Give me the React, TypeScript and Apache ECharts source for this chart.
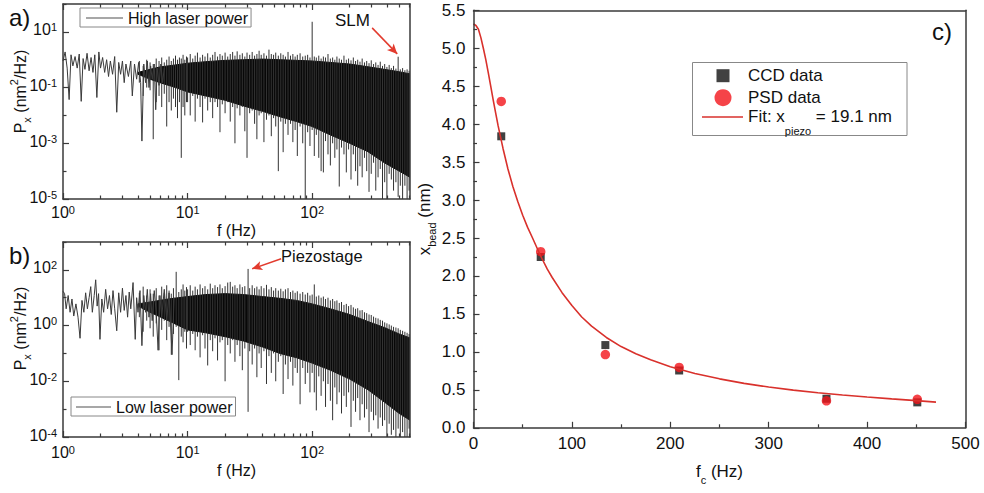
import React, { useEffect, useRef } from 'react';
import * as echarts from 'echarts';

const FONT = "'Liberation Sans', Arial, Helvetica, sans-serif";
const AX = '#3a3a3a';
const TXT = '#111';

// ---------- Panel a : high laser power spectrum ----------
const traceAFreq = [1.0, 1.04, 1.08, 1.12, 1.16, 1.2, 1.25, 1.3, 1.35, 1.4, 1.45, 1.5, 1.56, 1.62, 1.68, 1.74, 1.8, 1.87, 1.94, 2.0, 2.08, 2.16, 2.24, 2.32, 2.4, 2.5, 2.6, 2.7, 2.8, 2.9, 3.0, 3.1, 3.2, 3.35, 3.5, 3.6, 3.75, 3.9, 4.05, 4.2, 4.3, 4.45, 4.6, 4.75, 4.9, 5.05, 5.2, 5.4, 5.55, 5.7, 5.9, 6.1, 6.3, 6.5];
const traceAPower = [0.9, 1.9, 0.5, 0.037, 1.5, 0.6, 1.3, 0.5, 1.6, 0.032, 1.1, 0.45, 1.7, 0.4, 1.2, 0.35, 1.5, 0.044, 1.9, 0.5, 1.2, 0.35, 1.0, 0.25, 0.9, 0.3, 1.3, 0.013, 0.8, 0.3, 0.9, 0.15, 0.7, 0.25, 0.9, 0.05, 0.7, 0.2, 0.8, 0.15, 0.0012, 0.7, 0.15, 0.9, 0.1, 0.6, 0.2, 0.7, 0.016, 0.5, 0.12, 0.7, 0.15, 0.5];
const bandAFreq = [4, 5, 6, 8, 10, 14, 20, 28, 40, 55, 75, 100, 140, 200, 280, 380, 500, 610];
const bandAUpper = [0.35, 0.45, 0.55, 0.65, 0.75, 0.85, 0.95, 1.0, 1.05, 1.0, 0.95, 0.9, 0.8, 0.7, 0.56, 0.45, 0.37, 0.31];
const bandALower = [0.3, 0.2, 0.15, 0.1, 0.07, 0.05, 0.035, 0.022, 0.014, 0.009, 0.006, 0.004, 0.002, 0.001, 0.0005, 0.0002, 0.0001, 0.00006];
const spikesAFreq = [4.1, 4.4, 4.7, 5.0, 5.3, 5.6, 5.9, 6.2, 6.5, 6.8, 7.1, 7.4, 7.7, 8.0, 8.3, 8.6, 8.9, 9.2, 9.5, 9.8,
  10, 10.5, 11, 11.5, 12, 12.6, 13.2, 13.8, 14.5, 15.2, 15.9, 16.6, 17.4, 18.2, 19, 20, 21, 22, 23, 24, 25, 26.3, 27.5, 28.8, 30, 31.5, 33, 34.5, 36, 37.5, 39, 41, 43, 45, 47, 49, 51, 53.5, 56, 58.5, 61, 64, 67, 70, 73, 76, 80, 84, 88, 92, 96,
  100, 104, 108, 113, 118, 123, 128, 134, 140, 146, 152, 158, 165, 172, 180, 188, 196, 205, 214, 223, 232, 242, 252, 263, 274, 286, 298, 311, 324, 338, 352, 367, 382, 398, 415, 432, 450, 470, 490, 510, 532, 555, 578, 600];
const spikesAHigh = [0.9, 0.6, 1.0, 0.8, 0.7, 1.1, 0.9, 1.2, 0.8, 1.0, 1.3, 0.9, 1.1, 1.4, 1.0, 1.2, 1.1, 1.5, 1.0, 1.3,
  1.2, 1.6, 1.1, 1.4, 1.8, 1.2, 1.5, 1.3, 1.7, 1.2, 1.5, 1.9, 1.3, 1.6, 1.4, 1.8, 1.3, 1.6, 1.9, 1.4, 2.0, 1.5, 1.7, 1.3, 1.8, 1.5, 1.9, 1.4, 1.6, 2.1, 1.5, 1.7, 1.4, 2.3, 1.6, 1.5, 1.8, 1.4, 1.7, 1.5, 1.3, 1.9, 1.4, 1.6, 1.3, 1.5, 1.7, 1.3, 1.4, 1.5, 1.2,
  23, 1.3, 1.2, 1.4, 1.1, 1.3, 1.2, 1.6, 1.1, 1.2, 1.0, 1.3, 1.1, 1.0, 1.4, 1.0, 1.1, 0.95, 1.2, 0.9, 1.0, 0.85, 1.1, 0.8, 0.9, 0.75, 0.95, 0.7, 0.8, 0.65, 0.85, 0.6, 0.7, 0.55, 0.65, 0.5, 0.6, 0.48, 1.28, 0.45, 0.5, 0.42, 0.45, 0.4];
const spikesALow = [0.15, 0.05, 0.1, 0.08, 0.0014, 0.03, 0.05, 0.02, 0.06, 0.004, 0.03, 0.015, 0.04, 0.02, 0.008, 0.03, 0.0003, 0.02, 0.01, 0.03,
  0.03, 0.01, 0.05, 0.006, 0.04, 0.02, 0.0056, 0.04, 0.015, 0.03, 0.008, 0.03, 0.02, 0.0025, 0.025, 0.012, 0.03, 0.006, 0.02, 0.001, 0.018, 0.01, 0.02, 0.0027, 0.0003, 0.012, 0.015, 0.005, 0.0014, 0.01, 0.012, 0.0011, 0.007, 0.01, 0.0018, 0.008, 0.004, 0.0001, 0.006, 0.00048, 0.005, 0.002, 0.005, 0.0011, 0.003, 0.00035, 0.004, 0.001, 0.00001, 0.0025, 0.0008,
  0.003, 0.00035, 0.002, 0.0003, 0.0001, 0.00009, 0.0012, 0.0004, 0.00016, 0.001, 0.0003, 0.0006, 0.000028, 0.0007, 0.0004, 0.00009, 0.0006, 0.00005, 0.0004, 0.0001, 0.00003, 0.00015, 0.00006, 0.0003, 0.0001, 0.000018, 0.00008, 0.0002, 0.00002, 0.00006, 0.00012, 0.00001, 0.00004, 0.00001, 0.00008, 0.00005, 0.00002, 0.00004, 0.000012, 0.00003, 0.00001, 0.00003, 0.00001, 0.00002];

// ---------- Panel b : low laser power spectrum ----------
const traceBFreq = [1.0, 1.03, 1.06, 1.1, 1.14, 1.18, 1.22, 1.27, 1.32, 1.37, 1.42, 1.47, 1.52, 1.57, 1.62, 1.67, 1.72, 1.78, 1.83, 1.88, 1.93, 1.98, 2.05, 2.12, 2.2, 2.28, 2.36, 2.44, 2.52, 2.6, 2.7, 2.8, 2.9, 3.0, 3.1, 3.2, 3.3, 3.4, 3.5, 3.65, 3.8, 3.9, 4.0, 4.15, 4.3, 4.45, 4.6, 4.75, 4.9, 5.05, 5.2, 5.4, 5.6, 5.8, 6.0, 6.2, 6.5, 6.8, 7.1, 7.5, 7.8];
const traceBPower = [17, 14, 4, 12, 3, 9, 2.2, 6, 2, 0.35, 8, 3, 15, 4, 10, 25, 3, 12, 44, 5, 14, 0.32, 9, 3, 20, 4, 12, 2.5, 18, 4, 0.65, 15, 3, 22, 3.5, 12, 2, 16, 4, 35, 0.32, 10, 3, 18, 0.19, 12, 3, 20, 2, 14, 1.5, 18, 3, 0.13, 12, 2, 20, 1.5, 15, 0.09, 10];
const bandBFreq = [4, 5, 7, 10, 14, 20, 28, 40, 55, 75, 100, 140, 200, 280, 380, 500, 610];
const bandBUpper = [6, 7, 9, 11, 13, 14, 13, 11, 9.5, 8, 6, 4, 2.5, 1.4, 0.85, 0.5, 0.36];
const bandBLower = [5, 3, 1.5, 0.7, 0.55, 0.4, 0.28, 0.17, 0.1, 0.07, 0.045, 0.025, 0.012, 0.005, 0.0018, 0.0007, 0.0004];
const spikesBFreq = [4.1, 4.4, 4.7, 5.0, 5.3, 5.6, 5.9, 6.2, 6.5, 6.8, 7.1, 7.4, 7.7, 8.1, 8.5, 8.9, 9.2, 9.5, 9.8,
  10, 10.5, 11, 11.5, 12, 12.6, 13.2, 13.8, 14.5, 15.2, 15.9, 16.6, 17.4, 18.2, 19, 20, 21, 22, 23, 24, 25, 26.3, 27.5, 28.8, 30.6, 31.5, 33, 34.5, 36, 37.5, 39, 41, 43, 45, 47, 49, 51, 53.5, 56, 58.5, 61, 64, 67, 70, 73, 76, 80, 84, 88, 92, 96,
  100, 104, 108, 113, 118, 123, 128, 134, 140, 146, 152, 158, 165, 172, 180, 188, 196, 205, 214, 223, 232, 242, 252, 263, 274, 286, 298, 311, 324, 338, 352, 367, 382, 398, 415, 432, 450, 470, 490, 510, 532, 555, 578, 600];
const spikesBHigh = [15, 25, 12, 20, 14, 22, 12, 25, 15, 28, 18, 14, 22, 85, 16, 20, 30, 18, 24,
  20, 28, 18, 25, 20, 30, 22, 26, 20, 32, 22, 28, 24, 30, 22, 26, 35, 37, 25, 28, 22, 30, 24, 26, 108, 22, 28, 22, 25, 20, 26, 22, 29, 20, 24, 18, 22, 18, 21, 17, 20, 22, 16, 18, 15, 17, 14, 16, 13, 15, 12,
  13, 30, 11, 12, 10, 11, 9, 10, 8, 9, 7.5, 8, 6.5, 7, 5.5, 6, 5, 5.5, 4.5, 4, 4.2, 3.5, 3.6, 3, 2.8, 2.5, 2.4, 2.1, 1.9, 1.8, 1.6, 1.5, 1.3, 1.2, 1.1, 1.0, 0.9, 0.85, 0.8, 0.7, 0.65, 0.6, 0.55, 0.5];
const spikesBLow = [2, 0.6, 1.5, 0.8, 0.4, 1.2, 0.13, 0.7, 1.5, 0.3, 0.9, 0.09, 0.5, 0.9, 0.011, 0.4, 0.25, 0.6, 0.15,
  0.6, 0.2, 0.5, 0.13, 0.4, 0.072, 0.45, 0.15, 0.037, 0.3, 0.12, 0.35, 0.056, 0.25, 0.3, 0.01, 0.2, 0.1, 0.3, 0.05, 0.2, 0.08, 0.025, 0.15, 0.0008, 0.12, 0.04, 0.15, 0.014, 0.1, 0.03, 0.12, 0.008, 0.08, 0.02, 0.1, 0.01, 0.05, 0.08, 0.0035, 0.04, 0.012, 0.05, 0.007, 0.03, 0.02, 0.0015, 0.03, 0.008, 0.02, 0.004,
  0.02, 0.004, 0.0009, 0.015, 0.003, 0.01, 0.0012, 0.008, 0.002, 0.0004, 0.006, 0.0015, 0.004, 0.0007, 0.003, 0.0012, 0.004, 0.00023, 0.002, 0.0008, 0.0025, 0.0004, 0.0015, 0.0005, 0.001, 0.00015, 0.0008, 0.0004, 0.0006, 0.0002, 0.0005, 0.00025, 0.0004, 0.0001, 0.0003, 0.00012, 0.00018, 0.0001, 0.0002, 0.0001, 0.00015, 0.0001, 0.0001, 0.0002];

// ---------- shared log axis ticks ----------
const freqMajorTicks = [1, 10, 100];
const freqMinorTicks = [2, 3, 4, 5, 6, 7, 8, 9, 20, 30, 40, 50, 60, 70, 80, 90, 200, 300, 400, 500, 600];
const powerALabels = [1e-5, 1e-3, 1e-1, 10];
const powerAMinor = [1e-4, 1e-2, 1, 100];
const powerBLabels = [1e-4, 1e-2, 1, 100];
const powerBMinor = [1e-3, 1e-1, 10, 1000];

// ---------- Panel c : bead amplitude vs corner frequency ----------
const fcCCD = [28.2, 68.3, 134, 209, 358.7, 451];
const xCCD = [3.84, 2.25, 1.09, 0.755, 0.383, 0.335];
const fcPSD = [28.2, 68.3, 134, 209, 358.7, 451];
const xPSD = [4.3, 2.32, 0.965, 0.795, 0.355, 0.375];
const fitF = [0, 2.5, 5, 7.5, 10, 12.5, 15, 17.5, 20, 22.5, 25, 27.5, 30, 35, 40, 45, 50, 55, 60, 68, 75, 80, 90, 100, 110, 120, 135, 150, 165, 180, 200, 225, 250, 275, 300, 325, 350, 375, 400, 425, 450, 470];
const fitX = [5.32, 5.3, 5.25, 5.14, 5.0, 4.85, 4.68, 4.5, 4.32, 4.15, 3.98, 3.83, 3.68, 3.41, 3.18, 2.98, 2.8, 2.64, 2.5, 2.27, 2.09, 1.98, 1.78, 1.61, 1.46, 1.34, 1.19, 1.07, 0.975, 0.895, 0.805, 0.715, 0.645, 0.585, 0.537, 0.496, 0.461, 0.432, 0.405, 0.381, 0.358, 0.338];

const labelRich = {
  m: { fontSize: 16, lineHeight: 20, verticalAlign: 'top', fontFamily: FONT, color: TXT },
  s: { fontSize: 11, lineHeight: 8, verticalAlign: 'top', fontFamily: FONT, color: TXT },
};
const powFmt = (v: number) => `{m|10}{s|${Math.round(Math.log10(v))}}`;
const LINE_ICON = 'path://M0,0H40V1.6H0Z';

function logX(grid: number, position: string, ticks: number[], len: number, line: boolean, extra: any = {}) {
  return {
    type: 'log', logBase: 10, gridIndex: grid, position, min: 1, max: 610, z: 6,
    axisLine: { show: line, onZero: false, lineStyle: { color: AX, width: 1.5 } },
    axisTick: { show: true, inside: true, length: len, customValues: ticks, lineStyle: { color: AX, width: 1.2 } },
    axisLabel: { show: false },
    splitLine: { show: false },
    ...extra,
  };
}
function logY(grid: number, position: string, min: number, max: number, ticks: number[], len: number, line: boolean, extra: any = {}) {
  return {
    type: 'log', logBase: 10, gridIndex: grid, position, min, max, z: 6,
    axisLine: { show: line, onZero: false, lineStyle: { color: AX, width: 1.5 } },
    axisTick: { show: ticks.length > 0, inside: true, length: len, customValues: ticks, lineStyle: { color: AX, width: 1.2 } },
    axisLabel: { show: false },
    splitLine: { show: false },
    ...extra,
  };
}

const pxName = '{m|P}{sb|x}{m| (nm}{sp|2}{m|/Hz)}';
const pxNameStyle = (shift: number) => ({
  fontFamily: FONT, color: TXT, padding: [0, 0, 0, shift],
  rich: {
    m: { fontSize: 16, lineHeight: 18, padding: [6, 0, 0, 0], verticalAlign: 'top', fontFamily: FONT, color: TXT },
    sb: { fontSize: 11, lineHeight: 12, padding: [15, 0, 0, 0], verticalAlign: 'top', fontFamily: FONT, color: TXT },
    sp: { fontSize: 11, lineHeight: 12, padding: [2, 0, 0, 0], verticalAlign: 'top', fontFamily: FONT, color: TXT },
  },
});

function bandSeries(name: string, xi: number, yi: number, fr: number[], up: number[], lo: number[]) {
  return {
    type: 'custom', name, xAxisIndex: xi, yAxisIndex: yi, clip: true, silent: true, z: 2,
    data: fr.map((f, i) => [f, up[i], lo[i]]),
    encode: { x: 0, y: [1, 2] },
    renderItem: (params: any, api: any) => {
      if (params.dataIndex !== 0) return null;
      const pts: number[][] = [];
      for (let i = 0; i < fr.length; i++) pts.push(api.coord([fr[i], up[i]]));
      for (let i = fr.length - 1; i >= 0; i--) pts.push(api.coord([fr[i], lo[i]]));
      return { type: 'polygon', shape: { points: pts }, style: { fill: '#080808', stroke: '#080808', lineWidth: 1 } };
    },
  };
}
function spikeSeries(name: string, xi: number, yi: number, fr: number[], hi: number[], lo: number[]) {
  return {
    type: 'custom', name, xAxisIndex: xi, yAxisIndex: yi, clip: true, silent: true, z: 3,
    data: fr.map((f, i) => [f, hi[i], lo[i]]),
    encode: { x: 0, y: [1, 2] },
    renderItem: (params: any, api: any) => {
      const p1 = api.coord([api.value(0), api.value(1)]);
      const p2 = api.coord([api.value(0), api.value(2)]);
      return { type: 'line', shape: { x1: p1[0], y1: p1[1], x2: p2[0], y2: p2[1] }, style: { stroke: '#333', lineWidth: 1 } };
    },
  };
}

export default function App() {
  const ref = useRef<HTMLDivElement>(null);
  useEffect(() => {
    if (!ref.current) return;
    const chart = echarts.init(ref.current, null, { renderer: 'svg' });
    const option: any = {
      animation: false,
      backgroundColor: '#fff',
      textStyle: { fontFamily: FONT },
      grid: [
        { left: 63, top: 4, width: 347, height: 195, outerBoundsMode: 'none', containLabel: false },
        { left: 63, top: 242, width: 347, height: 195, outerBoundsMode: 'none', containLabel: false },
        { left: 473.5, top: 10.3, width: 492, height: 417.5, outerBoundsMode: 'none', containLabel: false },
      ],
      xAxis: [
        logX(0, 'bottom', freqMajorTicks, 6, true, {
          axisLabel: { show: true, customValues: freqMajorTicks, margin: 5, formatter: powFmt, rich: labelRich },
          name: 'f (Hz)', nameLocation: 'middle', nameGap: 22, nameMoveOverlap: false,
          nameTextStyle: { fontSize: 16, lineHeight: 18, fontFamily: FONT, color: TXT },
        }),
        logX(0, 'bottom', freqMinorTicks, 3.5, false),
        logX(0, 'top', freqMajorTicks, 6, true),
        logX(0, 'top', freqMinorTicks, 3.5, false),
        logX(1, 'bottom', freqMajorTicks, 6, true, {
          axisLabel: { show: true, customValues: freqMajorTicks, margin: 7, formatter: powFmt, rich: labelRich },
          name: 'f (Hz)', nameLocation: 'middle', nameGap: 24, nameMoveOverlap: false,
          nameTextStyle: { fontSize: 16, lineHeight: 18, fontFamily: FONT, color: TXT },
        }),
        logX(1, 'bottom', freqMinorTicks, 3.5, false),
        logX(1, 'top', freqMajorTicks, 6, true),
        logX(1, 'top', freqMinorTicks, 3.5, false),
        {
          type: 'value', gridIndex: 2, position: 'bottom', min: 0, max: 500, interval: 100, z: 6,
          axisLine: { show: true, onZero: false, lineStyle: { color: AX, width: 1.5 } },
          axisTick: { show: true, inside: true, length: 6, lineStyle: { color: AX, width: 1.2 } },
          minorTick: { show: true, splitNumber: 2, length: 3.5, lineStyle: { color: AX, width: 1.2 } },
          axisLabel: { fontSize: 17, color: TXT, fontFamily: FONT, margin: 7 },
          splitLine: { show: false },
          name: '{m|f}{sb|c}{m| (Hz)}', nameLocation: 'middle', nameGap: 35, nameMoveOverlap: false,
          nameTextStyle: {
            fontFamily: FONT, color: TXT,
            rich: {
              m: { fontSize: 17, lineHeight: 20, verticalAlign: 'top', fontFamily: FONT, color: TXT },
              sb: { fontSize: 11, lineHeight: 12, padding: [12, 0, 0, 0], verticalAlign: 'top', fontFamily: FONT, color: TXT },
            },
          },
        },
        {
          type: 'value', gridIndex: 2, position: 'top', min: 0, max: 500, interval: 100, z: 6,
          axisLine: { show: true, onZero: false, lineStyle: { color: AX, width: 1.5 } },
          axisTick: { show: false }, axisLabel: { show: false }, splitLine: { show: false },
        },
      ],
      yAxis: [
        logY(0, 'left', 1e-5, 100, powerALabels, 6, true, {
          axisLabel: { show: true, customValues: powerALabels, margin: 6, formatter: powFmt, rich: labelRich },
          name: pxName, nameLocation: 'middle', nameGap: 39, nameMoveOverlap: false, nameTextStyle: pxNameStyle(20),
        }),
        logY(0, 'left', 1e-5, 100, powerAMinor, 3.5, false),
        logY(0, 'right', 1e-5, 100, [], 0, true),
        logY(1, 'left', 1e-4, 1000, powerBLabels, 6, true, {
          axisLabel: { show: true, customValues: powerBLabels, margin: 6, formatter: powFmt, rich: labelRich },
          name: pxName, nameLocation: 'middle', nameGap: 39, nameMoveOverlap: false, nameTextStyle: pxNameStyle(22),
        }),
        logY(1, 'left', 1e-4, 1000, powerBMinor, 3.5, false),
        logY(1, 'right', 1e-4, 1000, [], 0, true),
        {
          type: 'value', gridIndex: 2, position: 'left', min: 0, max: 5.5, interval: 0.5, z: 6,
          axisLine: { show: true, onZero: false, lineStyle: { color: AX, width: 1.5 } },
          axisTick: { show: true, inside: true, length: 6, lineStyle: { color: AX, width: 1.2 } },
          minorTick: { show: true, splitNumber: 2, length: 3.5, lineStyle: { color: AX, width: 1.2 } },
          axisLabel: { fontSize: 17, color: TXT, fontFamily: FONT, margin: 8, formatter: (v: number) => v.toFixed(1) },
          splitLine: { show: false },
          name: '{m|x}{sb|bead}{m| (nm)}', nameLocation: 'middle', nameGap: 42, nameMoveOverlap: false,
          nameTextStyle: {
            fontFamily: FONT, color: TXT,
            rich: {
              m: { fontSize: 17, lineHeight: 20, padding: [4, 0, 0, 0], verticalAlign: 'top', fontFamily: FONT, color: TXT },
              sb: { fontSize: 11, lineHeight: 12, padding: [15, 0, 0, 0], verticalAlign: 'top', fontFamily: FONT, color: TXT },
            },
          },
        },
        {
          type: 'value', gridIndex: 2, position: 'right', min: 0, max: 5.5, interval: 0.5, z: 6,
          axisLine: { show: true, onZero: false, lineStyle: { color: AX, width: 1.5 } },
          axisTick: { show: false }, axisLabel: { show: false }, splitLine: { show: false },
        },
      ],
      legend: [
        {
          data: [{ name: 'High laser power', icon: LINE_ICON, itemStyle: { color: '#8a8a8a' } }],
          left: 80, top: 8, padding: [2, 3, 1, 6], itemWidth: 37, itemHeight: 10,
          borderColor: '#888', borderWidth: 1, borderRadius: 0, backgroundColor: '#fff', selectedMode: false,
          textStyle: { fontSize: 16, lineHeight: 16, fontFamily: FONT, color: TXT },
        },
        {
          data: [{ name: 'Low laser power', icon: LINE_ICON, itemStyle: { color: '#8a8a8a' } }],
          left: 71, top: 397, padding: [2, 3, 1, 5], itemWidth: 35, itemHeight: 10,
          borderColor: '#888', borderWidth: 1, borderRadius: 0, backgroundColor: '#fff', selectedMode: false,
          textStyle: { fontSize: 16, lineHeight: 16, fontFamily: FONT, color: TXT },
        },
        {
          data: [{ name: 'CCD data', icon: 'rect', itemStyle: { color: '#111' } }], left: 716.5, top: 66.7, padding: 0, itemWidth: 13, itemHeight: 13,
          selectedMode: false,
          textStyle: { fontSize: 17, lineHeight: 18, fontFamily: FONT, color: TXT, padding: [0, 0, 0, 13.5] },
        },
        {
          data: [{ name: 'PSD data', icon: 'circle', itemStyle: { color: '#f2141a' } }], left: 714.5, top: 88.7, padding: 0, itemWidth: 17, itemHeight: 17,
          selectedMode: false,
          textStyle: { fontSize: 17, lineHeight: 18, fontFamily: FONT, color: TXT, padding: [0, 0, 0, 11.5] },
        },
        {
          data: [{ name: 'Fit', icon: LINE_ICON, itemStyle: { color: '#d9312c' } }], left: 702, top: 106, padding: 0, itemWidth: 41, itemHeight: 14, selectedMode: false,
          formatter: () => '{m|Fit: x}{s|piezo}{m| = 19.1 nm}',
          textStyle: {
            fontFamily: FONT, color: TXT,
            rich: {
              m: { fontSize: 17, lineHeight: 22, padding: [2, 0, 0, 0], verticalAlign: 'top', fontFamily: FONT, color: TXT },
              s: { fontSize: 11, lineHeight: 12, padding: [19, 0, 0, 0], verticalAlign: 'top', fontFamily: FONT, color: TXT },
            },
          },
        },
      ],
      graphic: [
        { type: 'rect', z: 3, shape: { x: 692.5, y: 62.5, width: 214.5, height: 73 }, style: { fill: '#fff', stroke: '#888', lineWidth: 1 } },
        { type: 'text', x: 9, y: 17, style: { text: 'a)', fontSize: 24, fontFamily: FONT, fill: TXT, verticalAlign: 'middle' } },
        { type: 'text', x: 9, y: 255, style: { text: 'b)', fontSize: 24, fontFamily: FONT, fill: TXT, verticalAlign: 'middle' } },
        { type: 'text', x: 932, y: 31, style: { text: 'c)', fontSize: 24, fontFamily: FONT, fill: TXT, verticalAlign: 'middle' } },
        { type: 'text', x: 352.5, y: 20, style: { text: 'SLM', fontSize: 17, fontFamily: FONT, fill: TXT, align: 'center', verticalAlign: 'middle' } },
        { type: 'text', x: 281, y: 255.5, style: { text: 'Piezostage', fontSize: 16.5, fontFamily: FONT, fill: TXT, verticalAlign: 'middle' } },
      ],
      series: [
        bandSeries('bandA', 0, 0, bandAFreq, bandAUpper, bandALower),
        spikeSeries('spikesA', 0, 0, spikesAFreq, spikesAHigh, spikesALow),
        {
          type: 'line', name: 'High laser power', xAxisIndex: 0, yAxisIndex: 0, z: 3,
          data: traceAFreq.map((f, i) => [f, traceAPower[i]]),
          symbol: 'none', itemStyle: { color: '#8a8a8a' }, lineStyle: { color: '#3a3a3a', width: 1 },
          markLine: {
            silent: true, symbol: ['none', 'arrow'], symbolSize: [7, 10],
            lineStyle: { color: '#e23b2e', width: 1.5, type: 'solid' }, label: { show: false },
            data: [[{ coord: [303, 13.9] }, { coord: [482, 1.62] }]],
          },
        },
        bandSeries('bandB', 4, 3, bandBFreq, bandBUpper, bandBLower),
        spikeSeries('spikesB', 4, 3, spikesBFreq, spikesBHigh, spikesBLow),
        {
          type: 'line', name: 'Low laser power', xAxisIndex: 4, yAxisIndex: 3, z: 3,
          data: traceBFreq.map((f, i) => [f, traceBPower[i]]),
          symbol: 'none', itemStyle: { color: '#8a8a8a' }, lineStyle: { color: '#3a3a3a', width: 1 },
          markLine: {
            silent: true, symbol: ['none', 'arrow'], symbolSize: [7, 10],
            lineStyle: { color: '#e23b2e', width: 1.5, type: 'solid' }, label: { show: false },
            data: [[{ coord: [56.4, 249] }, { coord: [33, 109] }]],
          },
        },
        {
          type: 'scatter', name: 'CCD data', xAxisIndex: 8, yAxisIndex: 6, z: 3,
          data: fcCCD.map((f, i) => [f, xCCD[i]]), symbol: 'rect', symbolSize: 8,
          itemStyle: { color: '#111' },
        },
        {
          type: 'scatter', name: 'PSD data', xAxisIndex: 8, yAxisIndex: 6, z: 4,
          data: fcPSD.map((f, i) => [f, xPSD[i]]), symbol: 'circle', symbolSize: 9.5,
          itemStyle: { color: '#f2141a' },
        },
        {
          type: 'line', name: 'Fit', xAxisIndex: 8, yAxisIndex: 6, z: 5,
          data: fitF.map((f, i) => [f, fitX[i]]), symbol: 'none', smooth: false,
          itemStyle: { color: '#d9312c' }, lineStyle: { color: '#d9312c', width: 1.6 },
        },
      ],
    };
    chart.setOption(option);
    return () => chart.dispose();
  }, []);
  return <div ref={ref} style={{ position: 'fixed', left: 0, top: 0, width: 984, height: 493, background: '#fff' }} />;
}
